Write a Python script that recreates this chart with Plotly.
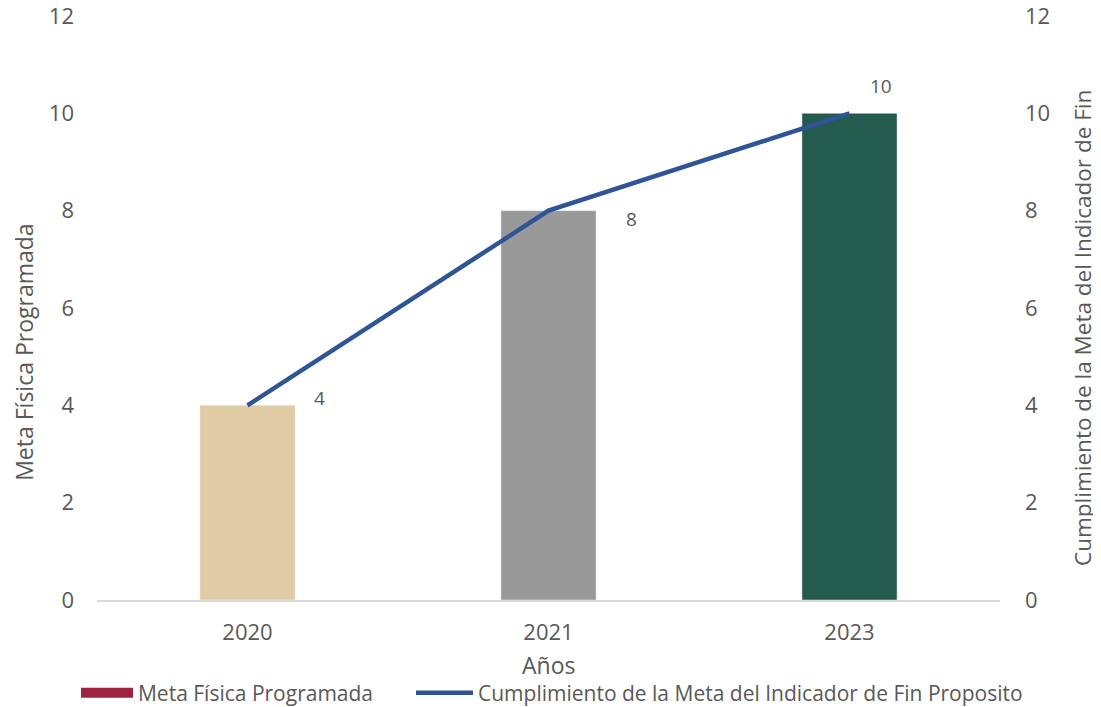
import plotly.graph_objects as go

years = ['2020', '2021', '2023']
meta_fisica = [4, 8, 10]
cumplimiento = [4, 8, 10]
bar_colors = ['#DFCBA4', '#999999', '#235B4E']

TEXT = '#595959'
FONT = "Open Sans, sans-serif"

fig = go.Figure()

fig.add_trace(go.Bar(
    x=years, y=meta_fisica,
    marker=dict(color=bar_colors),
    width=0.316,
    showlegend=False,
))

# legend entry only (Excel shows a wide maroon swatch)
fig.add_trace(go.Scatter(
    x=[None], y=[None], mode='lines',
    name='Meta Física Programada',
    line=dict(color='#9F2241', width=13),
    legend='legend',
))

fig.add_trace(go.Scatter(
    x=years, y=cumplimiento,
    mode='lines',
    line=dict(color='#2F5597', width=4.5),
    name='Cumplimiento de la Meta del Indicador de Fin Proposito',
    yaxis='y2',
    legend='legend2',
))

# data labels next to the line points (category index for x)
label_shift = [(72, 7), (83, -8), (31, 27)]
for i, (v, (dx, dy)) in enumerate(zip(cumplimiento, label_shift)):
    fig.add_annotation(
        x=i, y=v, xref='x', yref='y2', text=str(v), showarrow=False,
        xshift=dx, yshift=dy, font=dict(size=19, color=TEXT),
    )

# axis titles (Excel places the y titles a bit below centre)
fig.add_annotation(
    text='Meta Física Programada', textangle=-90, showarrow=False,
    xref='paper', yref='paper', x=-0.081, y=0.4247,
    xanchor='center', yanchor='middle', font=dict(size=23, color=TEXT),
)
fig.add_annotation(
    text='Cumplimiento de la Meta del Indicador de Fin', textangle=-90, showarrow=False,
    xref='paper', yref='paper', x=1.0919, y=0.4658,
    xanchor='center', yanchor='middle', font=dict(size=22.5, color=TEXT),
)
fig.add_annotation(
    text='Años', showarrow=False,
    xref='paper', yref='paper', x=0.5, y=-0.1113,
    xanchor='center', yanchor='middle', font=dict(size=23, color=TEXT),
)

legend_style = dict(
    orientation='h', xref='container', yref='container',
    xanchor='left', y=0.02, yanchor='middle',
    font=dict(size=21, color=TEXT),
)

fig.update_layout(
    width=1093, height=699,
    paper_bgcolor='white', plot_bgcolor='white',
    font=dict(family=FONT, size=22, color=TEXT),
    margin=dict(l=89, r=101, t=8, b=107),
    barmode='overlay',
    xaxis=dict(
        type='category', categoryorder='array', categoryarray=years,
        range=[-0.5, 2.5], autorange=False,
        showgrid=False, zeroline=False, automargin=False,
        showline=True, linecolor='#D9D9D9', linewidth=1.5,
        ticks='', tickfont=dict(size=22), ticklabelstandoff=12,
    ),
    yaxis=dict(
        range=[0, 12], dtick=2, showgrid=False, zeroline=False,
        showline=False, ticks='', automargin=False, ticklabelstandoff=22,
        tickfont=dict(size=22), ticklabeloverflow='allow',
    ),
    yaxis2=dict(
        range=[0, 12], dtick=2, showgrid=False, zeroline=False,
        overlaying='y', side='right', showline=False, ticks='',
        automargin=False, ticklabelstandoff=24, tickfont=dict(size=22),
        ticklabeloverflow='allow',
    ),
    legend=dict(legend_style, x=0.0622, itemwidth=52),
    legend2=dict(legend_style, x=0.3687, itemwidth=57),
)

fig.write_html("out.html")
